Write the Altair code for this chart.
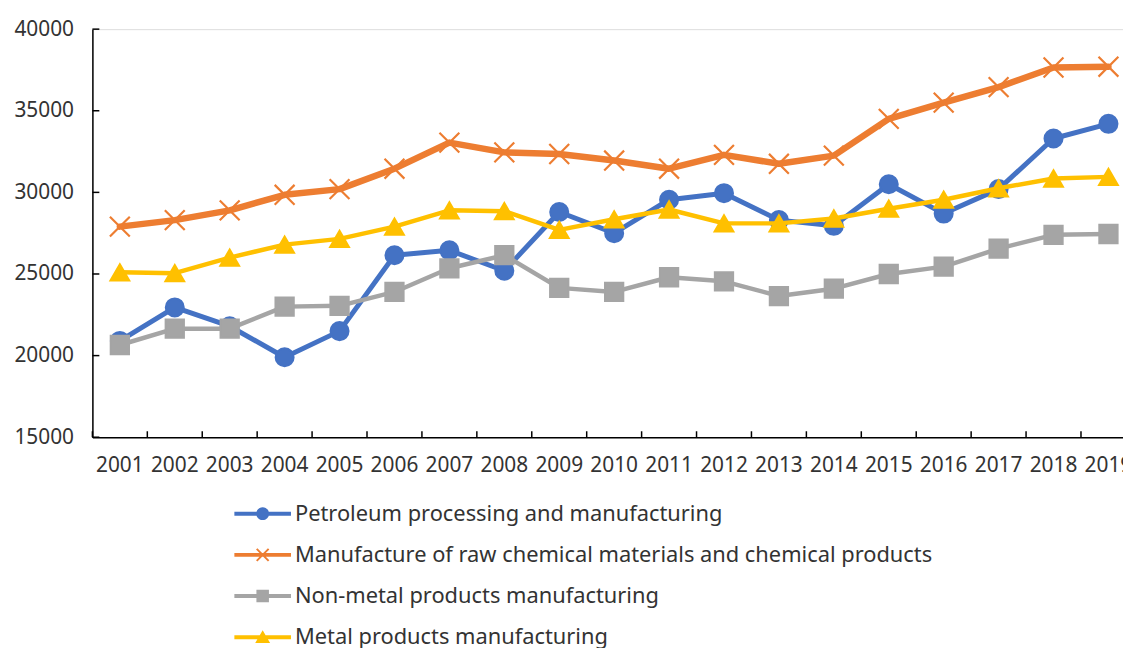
import altair as alt
import pandas as pd

years = ["2001", "2002", "2003", "2004", "2005", "2006", "2007", "2008", "2009", "2010",
         "2011", "2012", "2013", "2014", "2015", "2016", "2017", "2018", "2019"]

series_names = [
    "Petroleum processing and manufacturing",
    "Manufacture of raw chemical materials and chemical products",
    "Non-metal products manufacturing",
    "Metal products manufacturing",
]

petroleum = [20900, 22950, 21800, 19900, 21500, 26150, 26450, 25200, 28800, 27500,
             29550, 29950, 28300, 27950, 30500, 28700, 30200, 33300, 34200]
chemical = [27900, 28300, 28900, 29850, 30200, 31450, 33050, 32450, 32350, 31950,
            31450, 32300, 31750, 32250, 34500, 35500, 36450, 37650, 37700]
nonmetal = [20650, 21650, 21650, 23000, 23050, 23900, 25350, 26150, 24150, 23900,
            24800, 24550, 23650, 24100, 25000, 25450, 26550, 27400, 27450]
metal = [25100, 25050, 26000, 26800, 27150, 27900, 28900, 28850, 27700, 28350,
         28950, 28100, 28100, 28400, 29000, 29550, 30250, 30850, 30950]

y_ticks = [15000, 20000, 25000, 30000, 35000, 40000]

colors = ["#4472C4", "#ED7D31", "#A5A5A5", "#FFC000"]
line_widths = [5, 6.5, 4.5, 4.5]
marker_shapes = ["circle", "M-1,-1L1,1M-1,1L1,-1", "square", "triangle-up"]
marker_sizes = [330, 400, 340, 360]
marker_filled = [True, False, True, True]

# legend symbols: a line with the series marker in its middle (all filled shapes)
LINE = "M-1.1,-0.2H4.6V0.2H-1.1Z"
legend_paths = [
    LINE + "M2.4,0A0.65,0.65,0,1,1,1.1,0A0.65,0.65,0,1,1,2.4,0Z",
    LINE + "M1.22,-0.67L2.42,0.53L2.28,0.67L1.08,-0.53ZM1.08,0.53L2.28,-0.67L2.42,-0.53L1.22,0.67Z",
    LINE + "M1.12,-0.63H2.38V0.63H1.12Z",
    LINE + "M1.75,-0.7L2.5,0.58H1.0Z",
]

rows = []
for name, vals in zip(series_names, [petroleum, chemical, nonmetal, metal]):
    for yr, v in zip(years, vals):
        rows.append({"series": name, "year": yr, "value": v})
df = pd.DataFrame(rows)
ytick_df = pd.DataFrame({"value": y_ticks})
xtick_df = pd.DataFrame({"year": years})

FONT = "Noto Sans"
TXT = "#333333"
W, H = 1038, 411

x_scale = alt.Scale(type="band", domain=years, range=[0, 1051], paddingInner=0, paddingOuter=0)
y_scale = alt.Scale(domain=[15000, 40000], nice=False, zero=False)

x_axis = alt.Axis(title=None, labelAngle=0, labelFontSize=21, labelFont=FONT, labelColor=TXT,
                  labelPadding=18, ticks=False, tickSize=0, domainColor="black", domainWidth=1.5,
                  labelOverlap=False, grid=False)
y_axis = alt.Axis(title=None, values=y_ticks, labelFontSize=21, labelFont=FONT, labelColor=TXT,
                  labelPadding=19, ticks=False, tickSize=0, domainColor="black", domainWidth=1.5,
                  grid=False, format="d")

X = alt.X("year:O", scale=x_scale, axis=x_axis)
Y = alt.Y("value:Q", scale=y_scale, axis=y_axis)

legend = alt.Legend(
    title=None, orient="none", legendX=143, legendY=477, direction="vertical",
    symbolSize=400, symbolStrokeWidth=0, symbolOpacity=1, labelOffset=39, labelFontSize=22,
    labelFont=FONT, labelColor=TXT, labelLimit=2000, rowPadding=19.5, padding=0,
)

series_layers = []
for name, c, lw, shp, sz, fl in zip(series_names, colors, line_widths, marker_shapes,
                                     marker_sizes, marker_filled):
    base = alt.Chart(df).transform_filter(alt.datum.series == name)
    series_layers.append(
        base.mark_line(color=c, strokeWidth=lw, strokeJoin="round", strokeCap="round").encode(x=X, y=Y)
    )
    if fl:
        mk = base.mark_point(shape=shp, size=sz, filled=True, fill=c, stroke=c, opacity=1, strokeWidth=2)
    else:
        mk = base.mark_point(shape=shp, size=sz, filled=False, stroke=c, opacity=1, strokeWidth=2.2)
    series_layers.append(mk.encode(x=X, y=Y))

legend_src = alt.Chart(df).mark_point(filled=True, opacity=0).encode(
    x=X, y=Y,
    color=alt.Color("series:N", scale=alt.Scale(domain=series_names, range=colors), legend=legend),
    shape=alt.Shape("series:N", scale=alt.Scale(domain=series_names, range=legend_paths), legend=legend),
)

yticks = alt.Chart(ytick_df).mark_rule(color="black", strokeWidth=1.5).encode(
    y=Y, x=alt.value(0), x2=alt.value(7)
)
xticks = alt.Chart(xtick_df).mark_rule(color="black", strokeWidth=1.5).encode(
    x=alt.X("year:O", scale=x_scale, axis=x_axis, bandPosition=0), y=alt.value(H - 6), y2=alt.value(H)
)

chart = alt.layer(*series_layers, legend_src, yticks, xticks).properties(
    width=W, height=H,
    autosize=alt.AutoSizeParams(type="none"),
    padding={"left": 85, "top": 19, "right": 0, "bottom": 210},
).configure_view(stroke="transparent", strokeWidth=0).configure(font=FONT)

chart.save("out.html", embed_options={"renderer": "svg", "actions": False})
